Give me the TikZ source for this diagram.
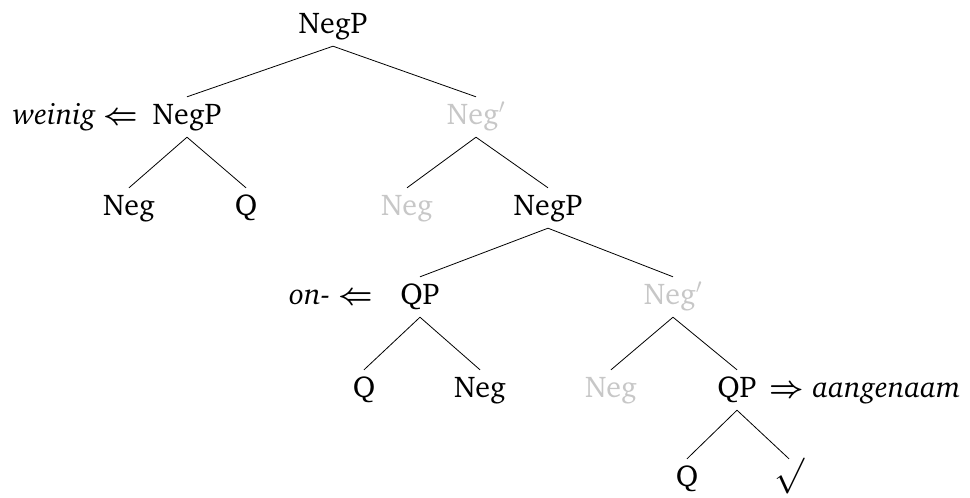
\RequirePackage{fix-cm}
\documentclass[tikz,border=0pt]{standalone}
\usepackage[T1]{fontenc}
\usepackage{charter}
\definecolor{lightg}{gray}{0.78}
\tikzset{
  tn/.style={anchor=base, text height=20pt, text depth=6pt, inner ysep=7pt, inner xsep=2pt, font=\fontsize{30pt}{36pt}\selectfont},
  gn/.style={tn, text=lightg},
  lab/.style={inner sep=0pt, font=\fontsize{30pt}{36pt}\selectfont},
  br/.style={draw=black, line width=0.8pt}
}
\begin{document}
\begin{tikzpicture}[x=1pt,y=-1pt]
\useasboundingbox (0,0) rectangle (970,498);
% level 1
\node[tn] (n1) at (333,33) {NegP};
% level 2
\node[tn] (n2a) at (187,124) {NegP};
\node[gn] (n2b) at (476,124) {Neg$'$};
% level 3
\node[tn] (n3a) at (129,215) {Neg};
\node[tn] (n3b) at (246,215) {Q};
\node[gn] (n3c) at (407,215) {Neg};
\node[tn] (n3d) at (548,215) {NegP};
% level 4
\node[tn] (n4a) at (420,304) {QP};
\node[gn] (n4b) at (673,304) {Neg$'$};
% level 5
\node[tn] (n5a) at (364,397) {Q};
\node[tn] (n5b) at (480,397) {Neg};
\node[gn] (n5c) at (611,397) {Neg};
\node[tn] (n5d) at (737,397) {QP};
% level 6
\node[tn] (n6a) at (687,486) {Q};
\node[tn] (n6b) at (789,486) {\raisebox{0.5pt}{\scalebox{1.2}{$\surd$}}};
% side labels
\node[lab, anchor=base east] (l1) at ([xshift=-12pt]n2a.base west) {\textit{weinig} {\boldmath$\Leftarrow$}};
\node[lab, anchor=base east] (l2) at ([xshift=-25pt]n4a.base west) {\textit{on-} {\boldmath$\Leftarrow$}};
\node[lab, anchor=base west] (l3) at ([xshift=11pt]n5d.base east) {{\boldmath$\Rightarrow$} \textit{aangenaam}};
% branches
\draw[br] (n1.south) -- (n2a.north);
\draw[br] (n1.south) -- (n2b.north);
\draw[br] (n2a.south) -- (n3a.north);
\draw[br] (n2a.south) -- (n3b.north);
\draw[br] (n2b.south) -- (n3c.north);
\draw[br] (n2b.south) -- (n3d.north);
\draw[br] (n3d.south) -- (n4a.north);
\draw[br] (n3d.south) -- (n4b.north);
\draw[br] (n4a.south) -- (n5a.north);
\draw[br] (n4a.south) -- (n5b.north);
\draw[br] (n4b.south) -- (n5c.north);
\draw[br] (n4b.south) -- (n5d.north);
\draw[br] (n5d.south) -- (n6a.north);
\draw[br] (n5d.south) -- (n6b.north);
\end{tikzpicture}
\end{document}
